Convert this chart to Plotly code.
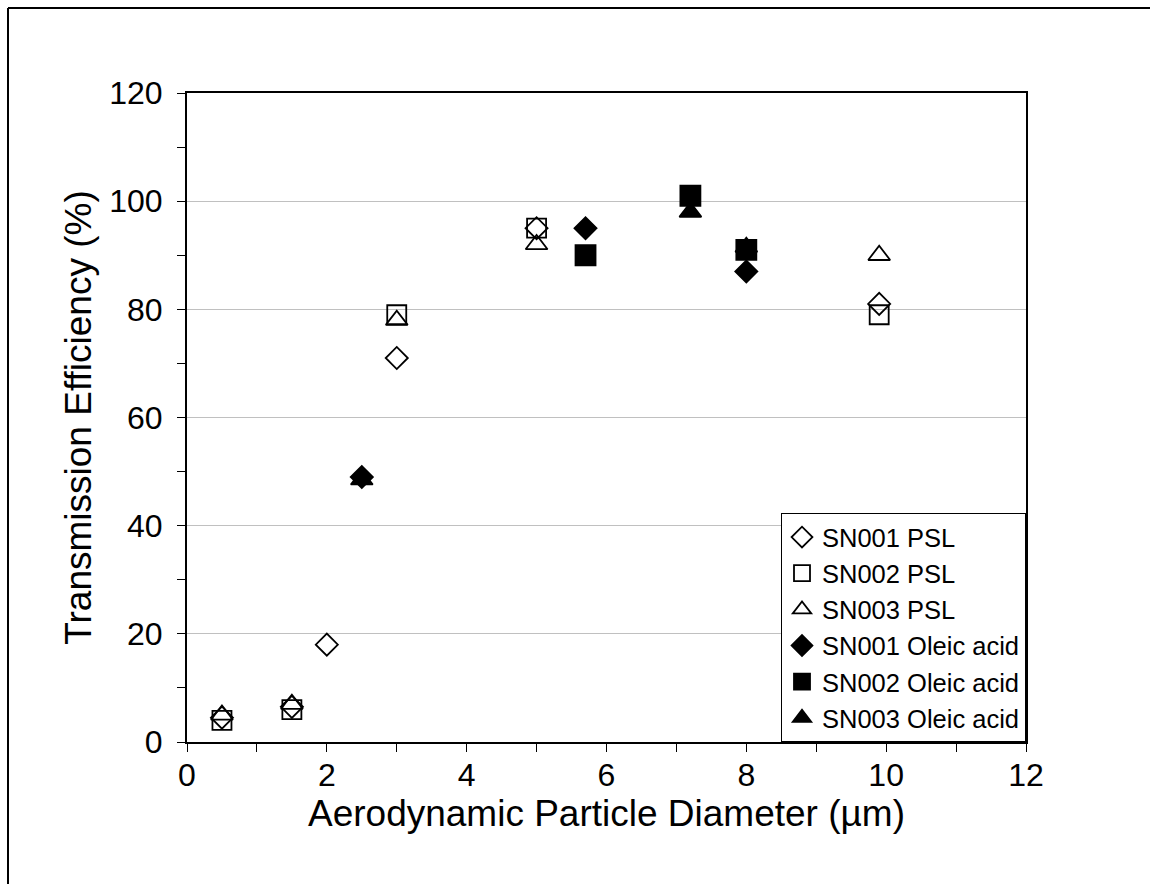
import plotly.graph_objects as go

# ---- data ----
sn001_psl_x = [0.5, 1.5, 2.0, 3.0, 5.0, 9.9]
sn001_psl_y = [4.5, 6.5, 18, 71, 95, 81]

sn002_psl_x = [0.5, 1.5, 3.0, 5.0, 9.9]
sn002_psl_y = [4, 6, 79, 95, 79]

sn003_psl_x = [0.5, 1.5, 3.0, 5.0, 9.9]
sn003_psl_y = [5, 7, 78, 92, 90]

sn001_oleic_x = [2.5, 5.7, 8.0]
sn001_oleic_y = [49, 95, 87]

sn002_oleic_x = [5.7, 7.2, 8.0]
sn002_oleic_y = [90, 101, 91]

sn003_oleic_x = [2.5, 7.2, 8.0]
sn003_oleic_y = [48.5, 98, 91.5]

FONT = "Liberation Sans, Arial, sans-serif"

series = [
    ("SN001 PSL", sn001_psl_x, sn001_psl_y, "diamond-open", 17),
    ("SN002 PSL", sn002_psl_x, sn002_psl_y, "square-open", 19),
    ("SN003 PSL", sn003_psl_x, sn003_psl_y, "triangle-up-open", 19),
    ("SN001 Oleic acid", sn001_oleic_x, sn001_oleic_y, "diamond", 17),
    ("SN002 Oleic acid", sn002_oleic_x, sn002_oleic_y, "square", 20),
    ("SN003 Oleic acid", sn003_oleic_x, sn003_oleic_y, "triangle-up", 19),
]

fig = go.Figure()
for name, xs, ys, sym, size in series:
    fig.add_trace(go.Scatter(
        x=xs, y=ys, mode="markers", name=name,
        marker=dict(symbol=sym, size=size, color="black",
                    line=dict(color="black", width=1.8)),
    ))

W, H = 1150, 884
ML, MR, MT, MB = 187, 124, 93, 142
fig.update_layout(
    width=W, height=H,
    paper_bgcolor="white", plot_bgcolor="white",
    margin=dict(l=ML, r=MR, t=MT, b=MB),
    font=dict(family=FONT, color="black", size=32),
    showlegend=True,
    legend=dict(
        x=1, y=0, xanchor="right", yanchor="bottom",
        bgcolor="white", bordercolor="black", borderwidth=1,
        font=dict(size=25.5, family=FONT, color="black"),
        tracegroupgap=0, itemwidth=30, entrywidth=215,
    ),
    xaxis=dict(
        range=[0, 12], dtick=2, tick0=0,
        showline=True, linecolor="black", linewidth=2, mirror=True,
        ticks="outside", ticklen=8, tickwidth=1, tickcolor="black",
        minor=dict(dtick=1, ticks="outside", ticklen=8, tickcolor="black", showgrid=False),
        showgrid=False, zeroline=False,
        tickfont=dict(size=32, family=FONT),
        ticklabelstandoff=-4,
        title=dict(text="Aerodynamic Particle Diameter (µm)",
                   font=dict(size=37, family=FONT), standoff=0),
    ),
    yaxis=dict(
        range=[0, 120], dtick=20, tick0=0,
        showline=True, linecolor="black", linewidth=2, mirror=True,
        ticks="outside", ticklen=8, tickwidth=1, tickcolor="black",
        minor=dict(dtick=10, ticks="outside", ticklen=8, tickcolor="black", showgrid=False),
        showgrid=True, gridcolor="#c0c0c0", gridwidth=1, zeroline=False,
        tickfont=dict(size=32, family=FONT),
        ticklabelstandoff=8,
        title=dict(text="Transmission Efficiency (%)",
                   font=dict(size=37, family=FONT), standoff=6),
    ),
)

# outer chart border (top and left edges visible)
pl, pr, pt, pb = ML, W - MR, MT, H - MB
pw, ph = pr - pl, pb - pt
def px_x(p):
    return (p - pl) / pw
def px_y(p):
    return (pb - p) / ph

fig.add_shape(type="line", xref="paper", yref="paper",
              x0=px_x(8), x1=px_x(W + 10), y0=px_y(8), y1=px_y(8),
              line=dict(color="black", width=2))
fig.add_shape(type="line", xref="paper", yref="paper",
              x0=px_x(8), x1=px_x(8), y0=px_y(8), y1=px_y(H + 10),
              line=dict(color="black", width=2))

fig.write_html(
    "out.html",
    config={"displayModeBar": False},
    post_script="document.body.style.margin='0';document.body.style.overflow='hidden';",
)
